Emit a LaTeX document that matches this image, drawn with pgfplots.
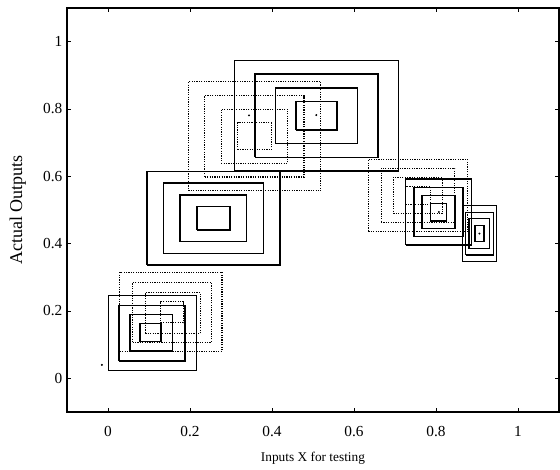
\documentclass[border=0pt]{standalone}
\usepackage{fontspec}
\setmainfont{Liberation Serif}
\usepackage{pgfplots}
\pgfplotsset{compat=1.18}

\begin{document}
\begin{tikzpicture}
\begin{axis}[
    at={(0,0)}, anchor=south west,
    scale only axis,
    width=369pt, height=303pt,
    xmin=-0.1, xmax=1.1, ymin=-0.1, ymax=1.1,
    xtick={0,0.2,0.4,0.6,0.8,1},
    ytick={0,0.2,0.4,0.6,0.8,1},
    tick pos=both, tick align=inside,
    major tick length=3pt,
    axis line style={line width=0.8pt},
    every tick/.style={black, line width=0.6pt},
    /pgf/number format/assume math mode=true,
    ticklabel style={font=\fontsize{11.5}{13}\selectfont},
    xticklabel style={yshift=-7pt},
    xlabel={Inputs X for testing},
    ylabel={Actual Outputs},
    xlabel style={at={(axis description cs:0.5,-0.114)}, anchor=center, font=\fontsize{10}{12}\selectfont},
    ylabel style={at={(axis description cs:-0.1,0.5)}, anchor=center, font=\fontsize{13.5}{15}\selectfont},
    sol/.style={black, line width=1.1pt, line join=miter},
    dot/.style={black, line width=0.8pt, dash pattern=on 0.9pt off 0.9pt},
]
% upper group, solid
\addplot[sol] coordinates {(0.458,0.738) (0.558,0.738) (0.558,0.822) (0.458,0.822) (0.458,0.738)};
\addplot[sol] coordinates {(0.408,0.697) (0.608,0.697) (0.608,0.863) (0.408,0.863) (0.408,0.697)};
\addplot[sol] coordinates {(0.358,0.656) (0.658,0.656) (0.658,0.904) (0.358,0.904) (0.358,0.656)};
\addplot[sol] coordinates {(0.308,0.616) (0.708,0.616) (0.708,0.944) (0.308,0.944) (0.308,0.616)};
% upper group, dotted
\addplot[dot] coordinates {(0.316,0.679) (0.398,0.679) (0.398,0.759) (0.316,0.759) (0.316,0.679)};
\addplot[dot] coordinates {(0.276,0.639) (0.438,0.639) (0.438,0.799) (0.276,0.799) (0.276,0.639)};
\addplot[dot] coordinates {(0.236,0.598) (0.478,0.598) (0.478,0.840) (0.236,0.840) (0.236,0.598)};
\addplot[dot] coordinates {(0.196,0.557) (0.519,0.557) (0.519,0.881) (0.196,0.881) (0.196,0.557)};
% middle left group
\addplot[sol] coordinates {(0.217,0.440) (0.297,0.440) (0.297,0.510) (0.217,0.510) (0.217,0.440)};
\addplot[sol] coordinates {(0.176,0.406) (0.338,0.406) (0.338,0.544) (0.176,0.544) (0.176,0.406)};
\addplot[sol] coordinates {(0.135,0.370) (0.379,0.370) (0.379,0.580) (0.135,0.580) (0.135,0.370)};
\addplot[sol] coordinates {(0.095,0.336) (0.419,0.336) (0.419,0.614) (0.095,0.614) (0.095,0.336)};
% right group, solid
\addplot[sol] coordinates {(0.786,0.468) (0.826,0.468) (0.826,0.520) (0.786,0.520) (0.786,0.468)};
\addplot[sol] coordinates {(0.766,0.445) (0.846,0.445) (0.846,0.543) (0.766,0.543) (0.766,0.445)};
\addplot[sol] coordinates {(0.746,0.421) (0.866,0.421) (0.866,0.567) (0.746,0.567) (0.746,0.421)};
\addplot[sol] coordinates {(0.726,0.396) (0.886,0.396) (0.886,0.592) (0.726,0.592) (0.726,0.396)};
% right group, dotted
\addplot[dot] coordinates {(0.726,0.516) (0.786,0.516) (0.786,0.570) (0.726,0.570) (0.726,0.516)};
\addplot[dot] coordinates {(0.696,0.489) (0.816,0.489) (0.816,0.597) (0.696,0.597) (0.696,0.489)};
\addplot[dot] coordinates {(0.666,0.462) (0.846,0.462) (0.846,0.624) (0.666,0.624) (0.666,0.462)};
\addplot[dot] coordinates {(0.635,0.436) (0.877,0.436) (0.877,0.650) (0.635,0.650) (0.635,0.436)};
% far right group
\addplot[sol] coordinates {(0.895,0.406) (0.917,0.406) (0.917,0.454) (0.895,0.454) (0.895,0.406)};
\addplot[sol] coordinates {(0.881,0.385) (0.931,0.385) (0.931,0.475) (0.881,0.475) (0.881,0.385)};
\addplot[sol] coordinates {(0.872,0.367) (0.940,0.367) (0.940,0.493) (0.872,0.493) (0.872,0.367)};
\addplot[sol] coordinates {(0.865,0.347) (0.948,0.347) (0.948,0.513) (0.865,0.513) (0.865,0.347)};
% lower left group, solid
\addplot[sol] coordinates {(0.078,0.109) (0.129,0.109) (0.129,0.163) (0.078,0.163) (0.078,0.109)};
\addplot[sol] coordinates {(0.054,0.081) (0.157,0.081) (0.157,0.190) (0.054,0.190) (0.054,0.081)};
\addplot[sol] coordinates {(0.027,0.052) (0.188,0.052) (0.188,0.217) (0.027,0.217) (0.027,0.052)};
\addplot[sol] coordinates {(0.001,0.023) (0.216,0.023) (0.216,0.246) (0.001,0.246) (0.001,0.023)};
% lower left group, dotted
\addplot[dot] coordinates {(0.129,0.165) (0.184,0.165) (0.184,0.227) (0.129,0.227) (0.129,0.165)};
\addplot[dot] coordinates {(0.091,0.133) (0.225,0.133) (0.225,0.254) (0.091,0.254) (0.091,0.133)};
\addplot[dot] coordinates {(0.060,0.107) (0.252,0.107) (0.252,0.285) (0.060,0.285) (0.060,0.107)};
\addplot[dot] coordinates {(0.029,0.080) (0.278,0.080) (0.278,0.315) (0.029,0.315) (0.029,0.080)};
% centre points
\addplot[only marks, mark=*, mark size=0.5pt, black] coordinates {
    (0.508,0.782) (0.344,0.781) (0.807,0.494) (0.906,0.430) (-0.015,0.040)
};
\end{axis}
\path (-50.25pt,-43.5pt) rectangle (369.75pt,309pt);
\end{tikzpicture}
\end{document}
